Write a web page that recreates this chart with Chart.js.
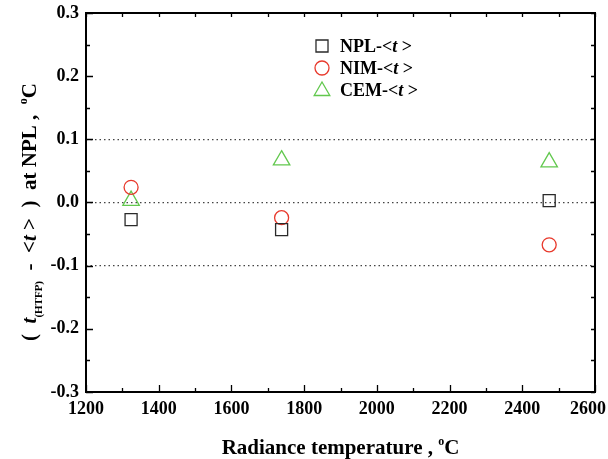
<!DOCTYPE html>
<html><head><meta charset="utf-8">
<script src="https://cdn.jsdelivr.net/npm/chart.js@4.4.1/dist/chart.umd.min.js"></script>
<style>html,body{margin:0;padding:0;background:#fff}</style>
</head><body>
<canvas id="c" width="608" height="459"></canvas>
<script>
// ---- data ----
const temperatures = [1324, 1738, 2474];
const nplValues = [-0.027, -0.043, 0.003];
const nimValues = [0.024, -0.024, -0.067];
const cemValues = [0.003, 0.067, 0.064];
const seriesNames = ['NPL', 'NIM', 'CEM'];
const seriesColors = ['#2a2a2a', '#e8392c', '#62c84e'];
const seriesStyles = ['rect', 'circle', 'triangle'];
const xTickValues = [1200, 1400, 1600, 1800, 2000, 2200, 2400, 2600];
const xTickLabels = ['1200', '1400', '1600', '1800', '2000', '2200', '2400', '2600'];
const yTickValues = [0.3, 0.2, 0.1, 0.0, -0.1, -0.2, -0.3];
const yTickLabels = ['0.3', '0.2', '0.1', '0.0', '-0.1', '-0.2', '-0.3'];
const referenceLines = [0.1, 0.0, -0.1];

const SERIF = '"Liberation Serif", "Times New Roman", "DejaVu Serif", serif';
const pointRadii = [8.5, 7, 9.5];

function toPoints(vals) { return temperatures.map((t, i) => ({x: t, y: vals[i]})); }
const seriesValues = [nplValues, nimValues, cemValues];

function drawMarker(ctx, style, x, y, r, color) {
  ctx.save();
  ctx.strokeStyle = color; ctx.lineWidth = 1.3;
  ctx.beginPath();
  if (style === 'rect') {
    const s = r * Math.SQRT1_2;
    ctx.rect(x - s, y - s, 2 * s, 2 * s);
  } else if (style === 'circle') {
    ctx.arc(x, y, r, 0, Math.PI * 2);
  } else {
    const a = Math.PI / 3 * 2;
    ctx.moveTo(x, y - r);
    ctx.lineTo(x + Math.sin(a) * r, y - Math.cos(a) * r);
    ctx.lineTo(x - Math.sin(a) * r, y - Math.cos(a) * r);
    ctx.closePath();
  }
  ctx.stroke();
  ctx.restore();
}

function drawRich(ctx, parts, x, y, align) {
  let total = 0;
  parts.forEach(p => { ctx.font = p.font; p.w = ctx.measureText(p.t).width; total += p.w; });
  let cx = align === 'center' ? x - total / 2 : x;
  parts.forEach(p => {
    ctx.font = p.font;
    ctx.textAlign = 'left';
    ctx.fillText(p.t, cx, y + (p.dy || 0));
    cx += p.w;
  });
}

const axesPlugin = {
  id: 'axesDecor',
  afterDraw(chart) {
    const {ctx, chartArea: a, scales: {x, y}} = chart;
    ctx.save();
    ctx.fillStyle = '#000';
    ctx.strokeStyle = '#000';
    // ticks
    ctx.lineWidth = 1.3;
    ctx.beginPath();
    const xMinor = 100, yMinor = 0.05;
    for (let v = x.min; v <= x.max + 1e-6; v += xMinor) {
      const px = Math.round(x.getPixelForValue(v)) + 0.5;
      const major = xTickValues.some(t => Math.abs(t - v) < 1e-6);
      ctx.moveTo(px, a.bottom); ctx.lineTo(px, a.bottom - (major ? 7 : 4));
      ctx.moveTo(px, a.top); ctx.lineTo(px, a.top + 4);
    }
    for (let k = 0; k <= Math.round((y.max - y.min) / yMinor); k++) {
      const v = y.min + k * yMinor;
      const py = Math.round(y.getPixelForValue(v)) + 0.5;
      const major = yTickValues.some(t => Math.abs(t - v) < 1e-6);
      ctx.moveTo(a.left, py); ctx.lineTo(a.left + (major ? 7 : 4), py);
      ctx.moveTo(a.right, py); ctx.lineTo(a.right - 4, py);
    }
    ctx.stroke();
    // frame
    ctx.lineWidth = 2;
    ctx.strokeRect(a.left, a.top, a.right - a.left, a.bottom - a.top);

    // tick labels
    ctx.font = 'bold 18px ' + SERIF;
    ctx.textBaseline = 'middle';
    xTickValues.forEach((v, i) => {
      let px = x.getPixelForValue(v);
      const w = ctx.measureText(xTickLabels[i]).width;
      if (px + w / 2 > chart.width - 2) px = chart.width - 2 - w / 2;
      ctx.textAlign = 'center';
      ctx.fillText(xTickLabels[i], px, a.bottom + 17);
    });
    yTickValues.forEach((v, i) => {
      ctx.textAlign = 'right';
      ctx.fillText(yTickLabels[i], a.left - 7, y.getPixelForValue(v));
    });

    // x title
    ctx.textBaseline = 'alphabetic';
    const TF = 'bold 21px ' + SERIF;
    drawRich(ctx, [
      {t: 'Radiance temperature , ', font: TF},
      {t: 'o', font: 'bold 12px ' + SERIF, dy: -9},
      {t: 'C', font: TF}
    ], (a.left + a.right) / 2, 454, 'center');

    // y title (rotated)
    ctx.save();
    ctx.translate(36, 212);
    ctx.rotate(-Math.PI / 2);
    const TI = 'italic bold 21px ' + SERIF;
    drawRich(ctx, [
      {t: '(  ', font: TF},
      {t: 't', font: TI},
      {t: '(HTFP)', font: 'bold 11px ' + SERIF, dy: 6},
      {t: '  -  <', font: TF},
      {t: 't', font: TI},
      {t: ' >  )  at NPL ,  ', font: TF},
      {t: 'o', font: 'bold 12px ' + SERIF, dy: -9},
      {t: 'C', font: TF}
    ], 0, 0, 'center');
    ctx.restore();

    // legend
    const LF = 'bold 18px ' + SERIF, LI = 'italic bold 18px ' + SERIF;
    const ly = [46, 68, 90];
    seriesNames.forEach((n, i) => {
      drawMarker(ctx, seriesStyles[i], 322, ly[i] + (i === 2 ? 1 : 0), pointRadii[i] * (i === 2 ? 0.95 : 1), seriesColors[i]);
      ctx.textBaseline = 'middle';
      drawRich(ctx, [
        {t: n + '-<', font: LF},
        {t: 't', font: LI},
        {t: ' >', font: LF}
      ], 340, ly[i] + 1, 'left');
    });
    ctx.restore();
  }
};

new Chart(document.getElementById('c'), {
  type: 'scatter',
  data: {
    datasets: seriesNames.map((n, i) => ({
      label: n + '-<t >',
      data: toPoints(seriesValues[i]),
      pointStyle: seriesStyles[i],
      pointRadius: pointRadii[i],
      pointHoverRadius: pointRadii[i],
      pointBorderWidth: 1.3,
      borderColor: seriesColors[i],
      backgroundColor: 'rgba(0,0,0,0)',
      pointBackgroundColor: 'rgba(0,0,0,0)'
    }))
  },
  options: {
    responsive: false,
    devicePixelRatio: 1,
    animation: false,
    events: [],
    layout: {padding: {top: 13, right: 13, left: 0, bottom: 0}},
    plugins: {legend: {display: false}, tooltip: {enabled: false}},
    scales: {
      x: {
        type: 'linear', min: 1200, max: 2600,
        ticks: {display: false, stepSize: 200},
        grid: {display: false},
        border: {display: false},
        afterFit(s) { s.height = 67; s.paddingLeft = 0; s.paddingRight = 0; }
      },
      y: {
        type: 'linear', min: -0.3, max: 0.3,
        ticks: {display: false, stepSize: 0.1},
        border: {display: false, dash: [1.5, 3]},
        grid: {
          drawTicks: false,
          lineWidth: 1.3,
          color: c => referenceLines.some(r => Math.abs(r - c.tick.value) < 1e-6) ? '#444' : 'rgba(0,0,0,0)'
        },
        afterFit(s) { s.width = 86; s.paddingTop = 0; s.paddingBottom = 0; }
      }
    }
  },
  plugins: [axesPlugin]
});
</script>
</body></html>
